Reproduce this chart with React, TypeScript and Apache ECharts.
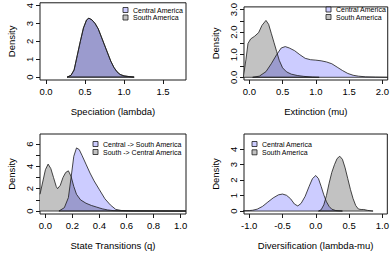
import React, { useEffect, useRef } from "react";
import * as echarts from "echarts";

// ---------- data ----------
// Speciation (lambda)
const specCentralX = [0.27, 0.32, 0.36, 0.40, 0.44, 0.48, 0.52, 0.55, 0.59, 0.63, 0.67, 0.71, 0.75, 0.79, 0.83, 0.87, 0.91, 0.95, 1.00, 1.05, 1.13];
const specCentralY = [0, 0.1, 0.4, 1.2, 2.0, 2.75, 3.2, 3.3, 3.2, 3.0, 2.7, 2.25, 1.8, 1.35, 0.9, 0.55, 0.3, 0.15, 0.07, 0.04, 0];
const specSouthX = [0.27, 0.32, 0.36, 0.40, 0.44, 0.48, 0.52, 0.55, 0.59, 0.63, 0.67, 0.71, 0.75, 0.79, 0.83, 0.87, 0.91, 0.95, 1.00, 1.05, 1.13];
const specSouthY = [0, 0.1, 0.4, 1.2, 2.0, 2.75, 3.2, 3.3, 3.2, 3.0, 2.7, 2.25, 1.8, 1.35, 0.9, 0.55, 0.3, 0.15, 0.07, 0.04, 0];
const specXTicks = [0, 0.5, 1, 1.5];
const specYTicks = [0, 1, 2, 3, 4];
const specYLabels = [0, 1, 2, 3, 4];

// Extinction (mu)
const extCentralX = [0.05, 0.15, 0.25, 0.33, 0.41, 0.48, 0.54, 0.60, 0.68, 0.76, 0.84, 0.92, 1.00, 1.08, 1.16, 1.24, 1.32, 1.40, 1.48, 1.56, 1.64, 1.75, 1.90, 2.08];
const extCentralY = [0, 0.05, 0.25, 0.6, 1.0, 1.3, 1.36, 1.3, 1.18, 1.0, 0.84, 0.78, 0.76, 0.73, 0.68, 0.6, 0.45, 0.3, 0.17, 0.09, 0.05, 0.02, 0.01, 0];
const extSouthX = [-0.09, -0.05, -0.02, 0.02, 0.08, 0.14, 0.19, 0.25, 0.29, 0.33, 0.37, 0.41, 0.45, 0.50, 0.56, 0.63, 0.72, 0.82, 0.95, 1.05];
const extSouthY = [0, 0.8, 1.5, 1.7, 1.82, 1.98, 2.3, 2.52, 2.35, 1.95, 1.55, 1.15, 0.75, 0.42, 0.24, 0.14, 0.08, 0.04, 0.01, 0];
const extXTicks = [0, 0.5, 1, 1.5, 2];
const extYTicks = [0, 0.5, 1, 1.5, 2, 2.5, 3];
const extYLabels = [0, 1, 2, 3];

// State transitions (q)
const qCentralX = [0.10, 0.14, 0.17, 0.19, 0.21, 0.23, 0.25, 0.27, 0.30, 0.33, 0.36, 0.40, 0.44, 0.48, 0.52, 0.56, 0.65, 0.80, 1.04];
const qCentralY = [0, 0.3, 1.2, 3.0, 4.9, 5.65, 5.5, 5.0, 4.2, 3.4, 2.7, 1.9, 1.1, 0.55, 0.15, 0.05, 0.02, 0.01, 0];
const qSouthX = [-0.04, -0.02, 0.0, 0.02, 0.04, 0.06, 0.08, 0.09, 0.11, 0.13, 0.15, 0.17, 0.19, 0.21, 0.23, 0.26, 0.30, 0.34, 0.38, 0.42, 0.46, 0.50, 0.60, 1.04];
const qSouthY = [1.5, 2.6, 3.7, 4.2, 3.8, 3.0, 2.2, 2.0, 2.3, 3.0, 3.45, 3.6, 3.1, 2.2, 1.5, 1.0, 0.7, 0.5, 0.35, 0.2, 0.1, 0.04, 0.01, 0];
const qXTicks = [0, 0.2, 0.4, 0.6, 0.8, 1.0];
const qYTicks = [0, 1, 2, 3, 4, 5, 6];
const qYLabels = [0, 2, 4, 6];

// Diversification (lambda-mu)
const divCentralX = [-1.09, -1.0, -0.95, -0.88, -0.80, -0.72, -0.64, -0.56, -0.50, -0.44, -0.38, -0.32, -0.27, -0.22, -0.16, -0.10, -0.05, 0.0, 0.04, 0.08, 0.12, 0.16, 0.20, 0.24, 0.30, 0.40];
const divCentralY = [0.02, 0.03, 0.05, 0.12, 0.3, 0.58, 0.85, 1.05, 1.1, 1.02, 0.8, 0.45, 0.33, 0.5, 0.95, 1.6, 2.1, 2.3, 2.1, 1.6, 1.05, 0.6, 0.3, 0.12, 0.03, 0];
const divSouthX = [0.04, 0.08, 0.12, 0.16, 0.20, 0.24, 0.28, 0.32, 0.36, 0.40, 0.44, 0.48, 0.52, 0.56, 0.60, 0.64, 0.68, 0.72, 0.78, 0.86];
const divSouthY = [0, 0.08, 0.4, 1.0, 1.8, 2.5, 3.0, 3.4, 3.55, 3.35, 2.8, 2.1, 1.4, 0.8, 0.35, 0.13, 0.1, 0.1, 0.04, 0];
const divXTicks = [-1, -0.5, 0, 0.5, 1];
const divYTicks = [0, 1, 2, 3, 4];
const divYLabels = [0, 1, 2, 3, 4];

const legendRegion = ["Central America", "South America"];
const legendTransition = ["Central -> South America", "South -> Central America"];
const xTitles = ["Speciation (lambda)", "Extinction (mu)", "State Transitions (q)", "Diversification (lambda-mu)"];

// ---------- styling ----------
const FONT = '"Liberation Sans", Arial, Helvetica, sans-serif';
const INK = "#1a1a1a";
const CENTRAL_FILL = "rgba(0,0,255,0.2)";
const SOUTH_FILL = "#c2c2c2";
const CENTRAL_KEY = "#ccccff";

const zip = (xs: number[], ys: number[]) => xs.map((x, i) => [x, ys[i]]);

type Panel = {
  left: number; top: number; width: number; height: number;
  xMin: number; xMax: number; yMin: number; yMax: number;
  xTicks: number[]; xDigits: number; yTicks: number[]; yLabels: number[]; yDigits: number;
  xName: string; legendLabels: string[]; legX: number; legY: number[];
  central: number[][]; south: number[][];
};

const panels: Panel[] = [
  {
    left: 40, top: 0, width: 146, height: 80, xMin: -0.077, xMax: 1.795, yMin: -0.16, yMax: 4.16,
    xTicks: specXTicks, xDigits: 1, yTicks: specYTicks, yLabels: specYLabels, yDigits: 0,
    xName: xTitles[0], legendLabels: legendRegion, legX: 133, legY: [10, 17.5],
    central: zip(specCentralX, specCentralY), south: zip(specSouthX, specSouthY),
  },
  {
    left: 244, top: 0, width: 146, height: 80, xMin: -0.08, xMax: 2.08, yMin: -0.12, yMax: 3.12,
    xTicks: extXTicks, xDigits: 1, yTicks: extYTicks, yLabels: extYLabels, yDigits: 1,
    xName: xTitles[1], legendLabels: legendRegion, legX: 336, legY: [9.5, 17],
    central: zip(extCentralX, extCentralY), south: zip(extSouthX, extSouthY),
  },
  {
    left: 40, top: 134, width: 146, height: 80, xMin: -0.04, xMax: 1.04, yMin: -0.265, yMax: 6.895,
    xTicks: qXTicks, xDigits: 1, yTicks: qYTicks, yLabels: qYLabels, yDigits: 0,
    xName: xTitles[2], legendLabels: legendTransition, legX: 103, legY: [144, 152],
    central: zip(qCentralX, qCentralY), south: zip(qSouthX, qSouthY),
  },
  {
    left: 244, top: 134, width: 146, height: 80, xMin: -1.078, xMax: 1.074, yMin: -0.192, yMax: 4.99,
    xTicks: divXTicks, xDigits: 1, yTicks: divYTicks, yLabels: divYLabels, yDigits: 0,
    xName: xTitles[3], legendLabels: legendRegion, legX: 262, legY: [144, 152.3],
    central: zip(divCentralX, divCentralY), south: zip(divSouthX, divSouthY),
  },
];

function buildOption() {
  const labelStyle = { color: "#000", fontSize: 9.5, fontFamily: FONT };
  const grid = panels.map((p) => ({
    left: p.left, top: p.top, width: p.width, height: p.height,
    show: true, borderColor: INK, borderWidth: 1, backgroundColor: "transparent",
  }));
  const xAxis = panels.map((p, i) => ({
    gridIndex: i, type: "value", min: p.xMin, max: p.xMax, position: "bottom",
    splitLine: { show: false }, axisLine: { show: false, onZero: false },
    axisTick: { show: true, length: 4, lineStyle: { color: INK, width: 1 }, customValues: p.xTicks },
    axisLabel: { ...labelStyle, margin: 6, customValues: p.xTicks, formatter: (v: number) => v.toFixed(p.xDigits) },
    name: p.xName, nameLocation: "middle", nameGap: 26, nameTextStyle: { ...labelStyle },
  }));
  const yAxis = panels.map((p, i) => ({
    gridIndex: i, type: "value", min: p.yMin, max: p.yMax, position: "left",
    splitLine: { show: false }, axisLine: { show: false, onZero: false },
    axisTick: { show: true, length: 4, lineStyle: { color: INK, width: 1 }, customValues: p.yTicks },
    axisLabel: { ...labelStyle, margin: 6, rotate: 90, customValues: p.yLabels, formatter: (v: number) => v.toFixed(p.yDigits) },
    name: "Density", nameLocation: "middle", nameRotate: 90, nameGap: 24, nameTextStyle: { ...labelStyle },
  }));
  const series: any[] = [];
  panels.forEach((p, i) => {
    const common = {
      type: "line", xAxisIndex: i, yAxisIndex: i, symbol: "none", smooth: false, silent: true,
      lineStyle: { color: INK, width: 0.8 },
    };
    series.push({ ...common, name: "south" + i, data: p.south, areaStyle: { color: SOUTH_FILL, opacity: 1 } });
    series.push({ ...common, name: "central" + i, data: p.central, areaStyle: { color: CENTRAL_FILL, opacity: 1 } });
    [p.south, p.central].forEach((d, k) => {
      series.push({
        ...common, name: "base" + i + "_" + k,
        data: [[d[0][0], 0], [d[d.length - 1][0], 0]],
      });
    });
  });
  const graphic: any[] = [];
  panels.forEach((p) => {
    p.legendLabels.forEach((lab, k) => {
      const cy = p.legY[k];
      graphic.push({
        type: "rect", shape: { x: p.legX - 10, y: cy - 2.5, width: 5, height: 5 },
        style: { fill: k === 0 ? CENTRAL_KEY : SOUTH_FILL, stroke: INK, lineWidth: 0.8 },
      });
      graphic.push({
        type: "text",
        style: { text: lab, x: p.legX, y: cy, fill: "#000", font: `7px ${FONT}`, verticalAlign: "middle", align: "left" },
      });
    });
  });
  return { animation: false, backgroundColor: "#fff", grid, xAxis, yAxis, series, graphic };
}

export default function App() {
  const ref = useRef<HTMLDivElement>(null);
  useEffect(() => {
    if (!ref.current) return;
    const chart = echarts.init(ref.current, undefined, { renderer: "svg" });
    chart.setOption(buildOption() as any);
    return () => chart.dispose();
  }, []);
  return <div ref={ref} style={{ position: "absolute", left: 0, top: 0, width: 392, height: 257 }} />;
}
